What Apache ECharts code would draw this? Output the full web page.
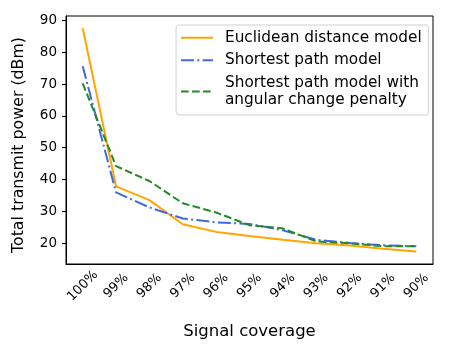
<!DOCTYPE html>
<html>
<head>
<meta charset="utf-8">
<script src="https://cdn.jsdelivr.net/npm/echarts@6/dist/echarts.min.js"></script>
<style>
  html, body { margin: 0; padding: 0; background: #fff; }
  #main { width: 450px; height: 350px; }
</style>
</head>
<body>
<div id="main"></div>
<script>
var categories = ['100%', '99%', '98%', '97%', '96%', '95%', '94%', '93%', '92%', '91%', '90%']
var euclidean = [87.6, 37.8, 33.5, 25.9, 23.5, 22.2, 21.0, 19.9, 19.2, 18.2, 17.3]
var shortestPath = [75.6, 35.9, 31.2, 27.7, 26.5, 26.0, 24.0, 21.0, 20.0, 19.3, 19.0]
var withPenalty = [70.2, 44.2, 39.5, 32.5, 29.6, 25.6, 24.6, 20.5, 19.9, 19.0, 19.0]
var yTicks = [20, 30, 40, 50, 60, 70, 80, 90]

var font = 'DejaVu Sans'
var myChart = echarts.init(document.getElementById('main'))
var option = {
  animation: false,
  backgroundColor: '#fff',
  textStyle: { fontFamily: font },
  grid: {
    left: 66, right: 17, top: 16, bottom: 86,
    show: true, borderColor: '#000', borderWidth: 1
  },
  legend: {
    orient: 'vertical',
    left: 176,
    top: 25,
    padding: [4, 7, 6, 4],
    itemGap: 5,
    itemWidth: 32,
    itemHeight: 10,
    backgroundColor: 'rgba(255,255,255,0.85)',
    borderColor: '#d0d0d0',
    borderWidth: 1,
    borderRadius: 3,
    // hide the round marker ECharts puts on line legend icons
    itemStyle: { color: 'transparent', borderColor: 'transparent', borderWidth: 0 },
    textStyle: { fontFamily: font, fontSize: 15.3, color: '#000', lineHeight: 17.5, padding: [0, 0, 0, 7] },
    data: [
      'Euclidean distance model',
      'Shortest path model',
      'Shortest path model with\nangular change penalty'
    ]
  },
  xAxis: {
    type: 'category',
    data: categories,
    boundaryGap: true,
    name: 'Signal coverage',
    nameLocation: 'middle',
    nameGap: 59,
    nameTextStyle: { fontFamily: font, fontSize: 16.5, color: '#000' },
    axisLine: { lineStyle: { color: '#000', width: 1 } },
    axisTick: { alignWithLabel: true, length: 4, lineStyle: { color: '#000' } },
    axisLabel: {
      rotate: 45, align: 'center', verticalAlign: 'middle', margin: 22,
      fontFamily: font, fontSize: 13, color: '#000', interval: 0
    },
    splitLine: { show: false }
  },
  yAxis: {
    type: 'value',
    min: 13.4,
    max: 91.4,
    name: 'Total transmit power (dBm)',
    nameLocation: 'middle',
    nameGap: 39,
    nameTextStyle: { fontFamily: font, fontSize: 15.8, color: '#000', padding: [0, 10, 0, 0] },
    axisLine: { show: true, lineStyle: { color: '#000', width: 1 } },
    axisTick: { show: true, length: 4, customValues: yTicks, lineStyle: { color: '#000' } },
    axisLabel: { customValues: yTicks, margin: 9, fontFamily: font, fontSize: 13.5, color: '#000' },
    splitLine: { show: false }
  },
  series: [
    {
      name: 'Euclidean distance model',
      type: 'line',
      data: euclidean,
      symbol: 'none',
      color: '#FFA500',
      lineStyle: { color: '#FFA500', width: 2 }
    },
    {
      name: 'Shortest path model',
      type: 'line',
      data: shortestPath,
      symbol: 'none',
      color: '#4169E1',
      lineStyle: { color: '#4169E1', width: 2, type: [13, 3.3, 2, 3.3] }
    },
    {
      name: 'Shortest path model with\nangular change penalty',
      type: 'line',
      data: withPenalty,
      symbol: 'none',
      color: '#228B22',
      lineStyle: { color: '#228B22', width: 2, type: [7.7, 3.3] }
    }
  ]
}
myChart.setOption(option, true)
</script>
</body>
</html>
